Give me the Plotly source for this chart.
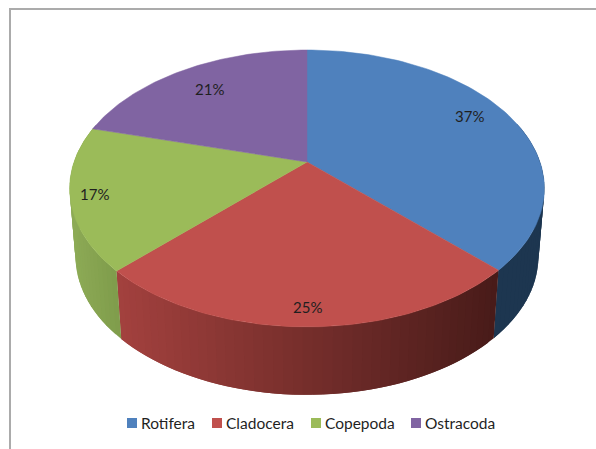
import math
import plotly.graph_objects as go

categories = ["Rotifera", "Cladocera", "Copepoda", "Ostracoda"]
values = [37.4, 25.1, 16.7, 20.8]
colors = ["#4F81BD", "#C0504D", "#9BBB59", "#8064A2"]

# Wall colours (left end, right end of each slice's visible side)
wall_left = ["#1D3650", "#A3413E", "#8DAB56", "#6A5387"]
wall_right = ["#1D3650", "#481B19", "#7F9C4B", "#6A5387"]

# Disc geometry on the page (perspective projection of a circle)
CX, CY = 307, 162
RX, RY, K = 233, 133.4, 0.191
DEPTH, BOTTOM_SCALE = 68, 0.975
label_radius = [0.80, 0.90, 0.90, 0.77]
label_yshift = [7, 0, 0, 0]
FONT = "Lato"
TEXT = "#1f1f1f"


def project(t_deg, r=1.0, xscale=1.0, dy=0.0):
    t = math.radians(t_deg)
    u, v = r * math.sin(t), r * math.cos(t)
    d = 1 + K * v
    return CX + xscale * RX * u / d, CY + dy - RY * v / d


def mix(a, b, f):
    f = max(0.0, min(1.0, f))
    ca = [int(a[i:i + 2], 16) for i in (1, 3, 5)]
    cb = [int(b[i:i + 2], 16) for i in (1, 3, 5)]
    return "rgb(%d,%d,%d)" % tuple(round(x + (y - x) * f) for x, y in zip(ca, cb))


def frange(a, b, n):
    return [a + (b - a) * i / n for i in range(n + 1)]


total = sum(values)
edges = [0.0]
for val in values:
    edges.append(edges[-1] + 360.0 * val / total)

fig = go.Figure()

# Side walls: vertical bands along the front of the disc, each overlapping the next
for i, name in enumerate(categories):
    a, b = edges[i], edges[i + 1]
    n = max(1, int((b - a) / 2.0))
    ts = frange(a, b, n)
    vis = [t for t in ts if math.cos(math.radians(t)) < 0.32]
    if len(vis) < 2:
        continue
    xs = [project(t)[0] for t in vis]
    x_lo, x_hi = min(xs), max(xs)
    for j in range(len(vis) - 1):
        s = vis[j]
        e = vis[min(j + 2, len(vis) - 1)]
        mid_t = vis[j + 1]
        arc = frange(s, e, 4)
        top = [project(t) for t in arc]
        bot = [project(t, xscale=BOTTOM_SCALE, dy=DEPTH) for t in reversed(arc)]
        pts = top + bot + [top[0]]
        xm = project((s + mid_t) / 2)[0]
        f = (xm - x_lo) / max(1, x_hi - x_lo)
        c = mix(wall_left[i], wall_right[i], f)
        fig.add_trace(go.Scatter(
            x=[p[0] for p in pts], y=[p[1] for p in pts], mode="lines", fill="toself",
            fillcolor=c, line=dict(width=0), hoverinfo="skip", showlegend=False))

# Top faces
for i, name in enumerate(categories):
    arc = [project(t) for t in frange(edges[i], edges[i + 1], 90)]
    pts = [(CX, CY)] + arc + [(CX, CY)]
    fig.add_trace(go.Scatter(
        x=[p[0] for p in pts], y=[p[1] for p in pts], mode="lines", fill="toself",
        fillcolor=colors[i], line=dict(color=colors[i], width=0.5), name=name,
        hoverinfo="name", showlegend=False))

annotations = []
for i, name in enumerate(categories):
    mid = (edges[i] + edges[i + 1]) / 2
    lx, ly = project(mid, r=label_radius[i])
    annotations.append(dict(x=lx, y=ly, xref="x", yref="y", showarrow=False,
                            yshift=label_yshift[i],
                            text="%.0f%%" % (100 * values[i] / total),
                            font=dict(family=FONT, size=15, color=TEXT)))

# Legend row
legend_x = [127, 212, 311, 411]
LEGEND_Y = 423
for i, name in enumerate(categories):
    fig.add_trace(go.Scatter(
        x=[legend_x[i] + 5], y=[LEGEND_Y], mode="markers",
        marker=dict(symbol="square", size=10, color=colors[i], line=dict(width=0)),
        hoverinfo="skip", showlegend=False))
    annotations.append(dict(x=legend_x[i] + 12, y=LEGEND_Y, xref="x", yref="y", xanchor="left",
                            showarrow=False, text=name,
                            font=dict(family=FONT, size=15.5, color=TEXT)))

frame = dict(type="path", path="M 10 449 L 10 9 L 596 9", xref="x", yref="y",
             line=dict(color="#ababab", width=2))

fig.update_layout(
    width=596, height=449, margin=dict(l=0, r=0, t=0, b=0),
    paper_bgcolor="white", plot_bgcolor="white", showlegend=False,
    xaxis=dict(range=[0, 596], visible=False, fixedrange=True),
    yaxis=dict(range=[449, 0], visible=False, fixedrange=True),
    annotations=annotations, shapes=[frame])

fig.write_html("out.html", config={"displayModeBar": False},
               post_script="document.body.style.margin='0';document.documentElement.style.overflow='hidden';")
